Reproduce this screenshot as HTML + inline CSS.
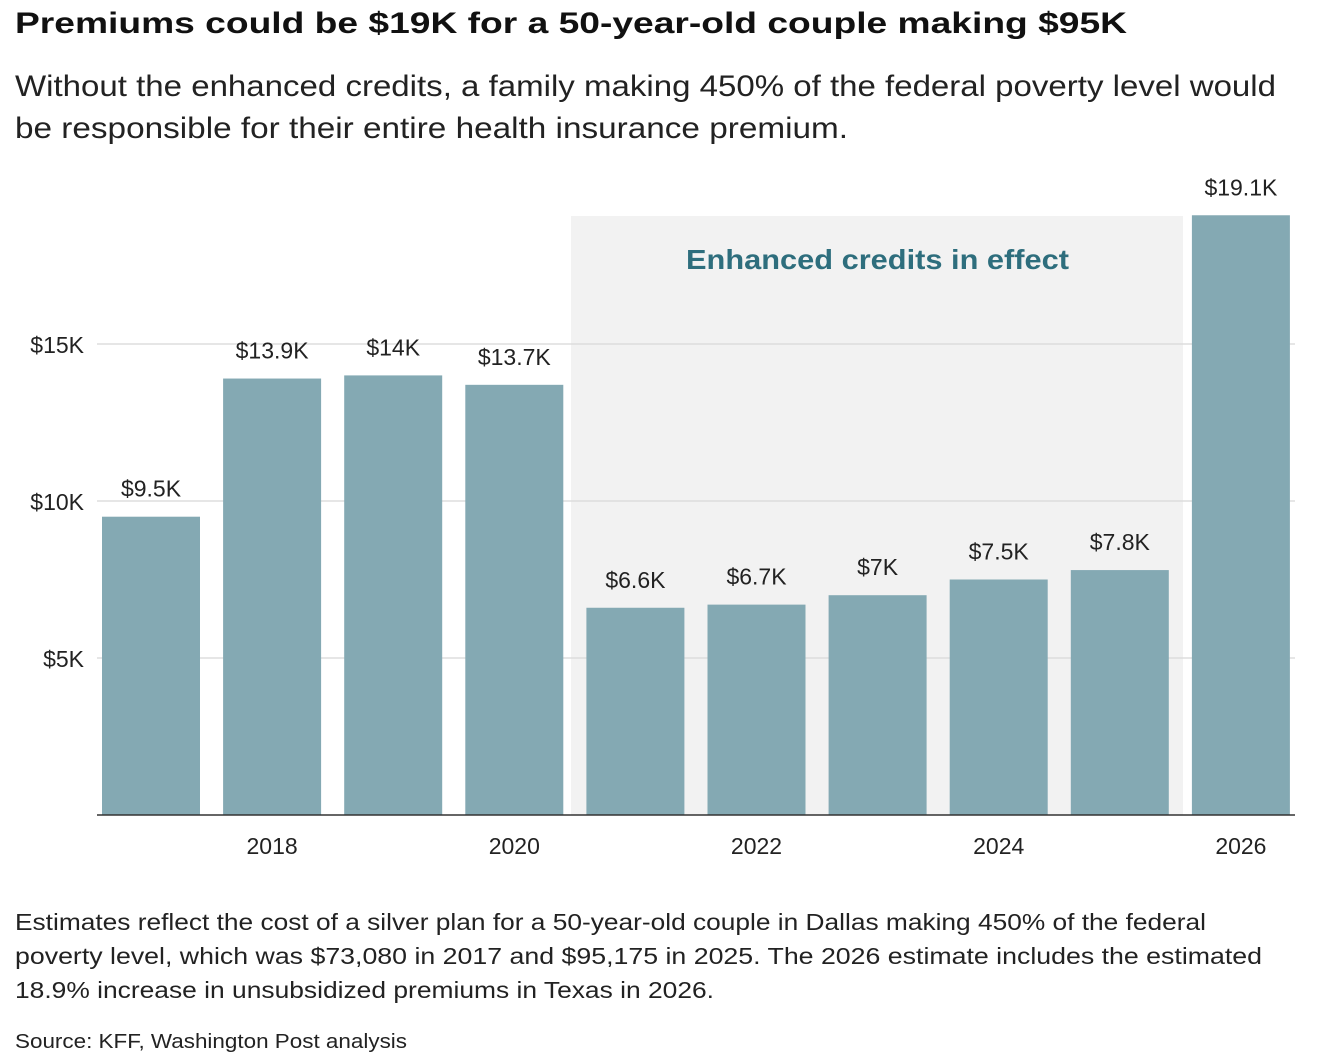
<!DOCTYPE html>
<html><head><meta charset="utf-8"><style>
html,body{margin:0;padding:0;background:#fff;}
svg{display:block;font-family:"Liberation Sans",sans-serif;}
</style></head><body>
<svg id="chart" width="1342" height="1060" viewBox="0 0 1342 1060">
<text x="15" y="33" font-size="30" font-weight="bold" fill="#111" textLength="1112" lengthAdjust="spacingAndGlyphs">Premiums could be $19K for a 50-year-old couple making $95K</text>
<text x="15" y="96" font-size="30" fill="#222" textLength="1261" lengthAdjust="spacingAndGlyphs">Without the enhanced credits, a family making 450% of the federal poverty level would</text>
<text x="15" y="138" font-size="30" fill="#222" textLength="833" lengthAdjust="spacingAndGlyphs">be responsible for their entire health insurance premium.</text>
<rect x="571" y="216" width="612" height="599" fill="#f2f2f2"/>
<text x="686" y="269" font-size="28" font-weight="bold" fill="#2e6e7d" textLength="383" lengthAdjust="spacingAndGlyphs">Enhanced credits in effect</text>
<g id="grid"></g><g id="bars"></g><g id="labels"></g>
<line x1="97" x2="1295" y1="815" y2="815" stroke="#333" stroke-width="1.5"/>
<text x="15" y="930" font-size="23" fill="#222" textLength="1191" lengthAdjust="spacingAndGlyphs">Estimates reflect the cost of a silver plan for a 50-year-old couple in Dallas making 450% of the federal</text>
<text x="15" y="964" font-size="23" fill="#222" textLength="1247" lengthAdjust="spacingAndGlyphs">poverty level, which was $73,080 in 2017 and $95,175 in 2025. The 2026 estimate includes the estimated</text>
<text x="15" y="998" font-size="23" fill="#222" textLength="699" lengthAdjust="spacingAndGlyphs">18.9% increase in unsubsidized premiums in Texas in 2026.</text>
<text x="15" y="1048" font-size="20" fill="#222" textLength="392" lengthAdjust="spacingAndGlyphs">Source: KFF, Washington Post analysis</text>
</svg>
<script>
const years=[2017,2018,2019,2020,2021,2022,2023,2024,2025,2026];
const values=[9.5,13.9,14,13.7,6.6,6.7,7,7.5,7.8,19.1];
const valueLabels=["$9.5K","$13.9K","$14K","$13.7K","$6.6K","$6.7K","$7K","$7.5K","$7.8K","$19.1K"];
const yTicks=[5,10,15];
const yTickLabels=["$5K","$10K","$15K"];
const xTickYears=[2018,2020,2022,2024,2026];

const NS="http://www.w3.org/2000/svg";
const y0=815, pxPerK=31.4;
const y=v=>y0-v*pxPerK;
const x0=102, step=121.1, bw=98;
const x=yr=>x0+(yr-years[0])*step;
function mk(tag,attrs,parent){const e=document.createElementNS(NS,tag);for(const k in attrs)e.setAttribute(k,attrs[k]);document.getElementById(parent).appendChild(e);return e;}
yTicks.forEach((t,i)=>{
 const l=mk('line',{x1:97,x2:1295,y1:y(t),y2:y(t),stroke:'#ddd','stroke-width':1.5},'grid');
 
 
 const tx=mk('text',{x:84,y:y(t)+9,'text-anchor':'end','font-size':23,fill:'#222'},'grid');
 tx.textContent=yTickLabels[i];
 
 
});
years.forEach((yr,i)=>{
 const r=mk('rect',{x:x(yr),y:y(values[i]),width:bw,height:values[i]*pxPerK,fill:'#84a9b3'},'bars');
 
 
 const t=mk('text',{x:x(yr)+bw/2,y:y(values[i])-20,'text-anchor':'middle','font-size':23,fill:'#222'},'labels');
 t.textContent=valueLabels[i];
 
 
});
xTickYears.forEach(yr=>{
 const t=mk('text',{x:x(yr)+bw/2,y:854,'text-anchor':'middle','font-size':23,fill:'#222'},'labels');
 t.textContent=yr;
 
 
});
</script>
</body></html>
